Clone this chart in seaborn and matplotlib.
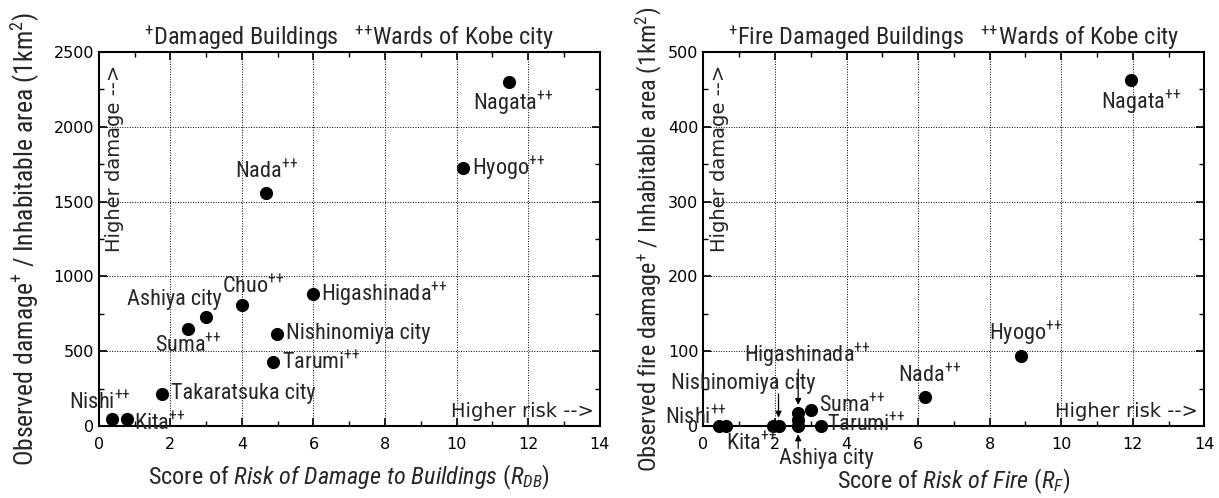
import seaborn as sns
import matplotlib.pyplot as plt
from matplotlib import font_manager
from matplotlib.ticker import MultipleLocator

# ---------------- data ----------------
places = ["Nagata", "Hyogo", "Nada", "Chuo", "Higashinada", "Ashiya city", "Suma",
          "Nishinomiya city", "Tarumi", "Takaratsuka city", "Nishi", "Kita"]
kobe_ward = [True, True, True, True, True, False, True, False, True, False, True, True]

# left panel: Risk of Damage to Buildings vs observed damage density
rdb_score = [11.47, 10.19, 4.68, 3.99, 5.99, 3.0, 2.49, 4.99, 4.88, 1.78, 0.38, 0.78]
damage_density = [2300, 1725, 1560, 812, 880, 730, 648, 617, 425, 215, 44, 44]

# right panel: Risk of Fire vs observed fire damage density
rf_score = [11.95, 8.88, 6.2, 2.65, 2.65, 2.65, 3.0, 2.1, 3.3, 1.95, 0.45, 0.62]
fire_density = [462, 94, 39, 8, 17, 0, 21, 0, 0, 0, 0, 0]

# label placement (points offset, ha, va)
left_offsets = {
    "Nagata": (3, -6, "center", "top"),
    "Hyogo": (6, 0, "left", "center"),
    "Nada": (0, 7, "center", "bottom"),
    "Chuo": (8, 5, "center", "bottom"),
    "Higashinada": (6, 0, "left", "center"),
    "Ashiya city": (11, 5, "right", "bottom"),
    "Suma": (0, -4, "center", "top"),
    "Nishinomiya city": (6, 0, "left", "center"),
    "Tarumi": (6, 0, "left", "center"),
    "Takaratsuka city": (6, 0, "left", "center"),
    "Nishi": (-9, 4, "center", "bottom"),
    "Kita": (5, -3, "left", "center"),
}
right_offsets = {
    "Nagata": (7, -6, "center", "top"),
    "Hyogo": (3, 6, "center", "bottom"),
    "Nada": (3, 7, "center", "bottom"),
    "Suma": (6, 3, "left", "center"),
    "Tarumi": (4, 1, "left", "center"),
    "Nishi": (5, 6, "right", "center"),
    "Kita": (0, -13, "left", "center"),
}
# labels with arrows in the right panel: text anchor (data), anchor va
right_arrows = {
    "Higashinada": (2.89, 76, "bottom"),
    "Nishinomiya city": (1.12, 43, "bottom"),
    "Ashiya city": (3.43, -30, "top"),
}

# ---------------- style ----------------
sns.set_theme(style="ticks")
have = {f.name for f in font_manager.fontManager.ttflist}
NARROW = "Liberation Sans"
for cand in ["Liberation Sans Narrow", "Arial Narrow", "Roboto Condensed", "Archivo Narrow"]:
    if cand in have:
        NARROW = cand
        break

plt.rcParams["font.family"] = [NARROW, "DejaVu Sans"]
plt.rcParams["mathtext.fontset"] = "custom"
plt.rcParams["mathtext.rm"] = NARROW
plt.rcParams["mathtext.it"] = NARROW + ":italic"
plt.rcParams["axes.linewidth"] = 1.5

LABEL_FS = 16
TITLE_FS = 17.5
PP = "$^{+{+}}$"


def lab(name, ward):
    return name + (PP if ward else "")


def style_axes(ax, ymax, ymajor, yminor):
    ax.set_xlim(0, 14)
    ax.set_ylim(0, ymax)
    ax.xaxis.set_major_locator(MultipleLocator(2))
    ax.xaxis.set_minor_locator(MultipleLocator(1))
    ax.yaxis.set_major_locator(MultipleLocator(ymajor))
    ax.yaxis.set_minor_locator(MultipleLocator(yminor))
    ax.tick_params(which="both", direction="in", top=True, right=True, color="black")
    ax.tick_params(which="major", length=6, width=1.2)
    ax.tick_params(which="minor", length=3.5, width=1)
    ax.tick_params(axis="x", pad=8)
    ax.tick_params(axis="y", pad=3.5)
    for t in ax.get_xticklabels() + ax.get_yticklabels():
        t.set_fontfamily("DejaVu Sans")
        t.set_fontsize(11.5)
        t.set_color("black")
    ax.grid(True, which="major", color="black", linestyle=(0, (1, 1.6)), linewidth=0.7)
    ax.set_axisbelow(True)
    for sp in ax.spines.values():
        sp.set_color("black")
    ax.text(0.032, 0.965, "Higher damage -->", transform=ax.transAxes, rotation=90,
            ha="center", va="top", fontsize=14, family="DejaVu Sans", color="#222222")
    ax.text(0.988, 0.04, "Higher risk -->", transform=ax.transAxes,
            ha="right", va="center", fontsize=14, family="DejaVu Sans", color="#222222")


fig = plt.figure(figsize=(12.19, 4.98), dpi=100)
ax1 = fig.add_axes([0.081, 0.1446, 0.411, 0.751])
ax2 = fig.add_axes([0.577, 0.1446, 0.411, 0.751])

# ---------------- left panel ----------------
sns.scatterplot(x=rdb_score, y=damage_density, ax=ax1, color="black", s=90,
                linewidth=0, zorder=3, legend=False)
style_axes(ax1, 2500, 500, 250)
for name, ward, x, y in zip(places, kobe_ward, rdb_score, damage_density):
    dx, dy, ha, va = left_offsets[name]
    ax1.annotate(lab(name, ward), (x, y), xytext=(dx, dy), textcoords="offset points",
                 ha=ha, va=va, fontsize=LABEL_FS)
ax1.set_title("$^{+}$Damaged Buildings   " + PP + "Wards of Kobe city", fontsize=TITLE_FS, pad=2)
ax1.set_xlabel(r"Score of $Risk\ of\ Damage\ to\ Buildings\ (R_{DB})$", fontsize=17.5)
ax1.set_ylabel(r"Observed damage$^{+}$ / Inhabitable area (1km$^{2}$)", fontsize=18.5)
ax1.xaxis.set_label_coords(0.5, -0.10)
ax1.yaxis.set_label_coords(-0.113, 0.5)

# ---------------- right panel ----------------
sns.scatterplot(x=rf_score, y=fire_density, ax=ax2, color="black", s=90,
                linewidth=0, zorder=3, legend=False, clip_on=False)
style_axes(ax2, 500, 100, 50)
for name, ward, x, y in zip(places, kobe_ward, rf_score, fire_density):
    if name in right_offsets:
        dx, dy, ha, va = right_offsets[name]
        ax2.annotate(lab(name, ward), (x, y), xytext=(dx, dy), textcoords="offset points",
                     ha=ha, va=va, fontsize=LABEL_FS, annotation_clip=False)
    elif name in right_arrows:
        tx, ty, va = right_arrows[name]
        ax2.text(tx, ty, lab(name, ward), ha="center", va=va, fontsize=LABEL_FS, clip_on=False)
        ax2.annotate("", xy=(x, y), xytext=(x, ty), annotation_clip=False,
                     arrowprops=dict(arrowstyle="-|>", color="black", lw=0.9,
                                     mutation_scale=9, shrinkA=0, shrinkB=6))
ax2.set_title("$^{+}$Fire Damaged Buildings   " + PP + "Wards of Kobe city", fontsize=TITLE_FS, pad=2)
ax2.set_xlabel(r"Score of $Risk\ of\ Fire$ ($R_{F}$)", fontsize=17.5)
ax2.set_ylabel(r"Observed fire damage$^{+}$ / Inhabitable area (1km$^{2}$)", fontsize=17.5)
ax2.xaxis.set_label_coords(0.5, -0.11)
ax2.yaxis.set_label_coords(-0.079, 0.5)

fig.savefig("out.png", dpi=100, facecolor="white")
